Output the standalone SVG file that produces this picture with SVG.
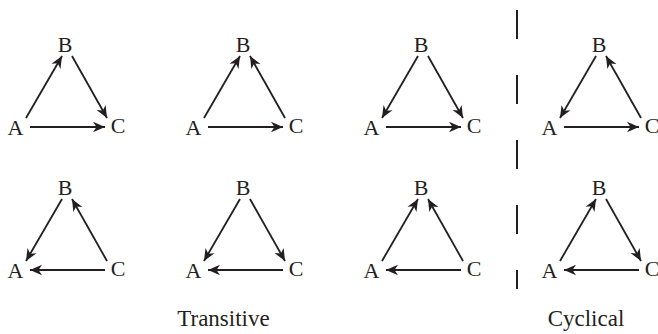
<svg xmlns="http://www.w3.org/2000/svg" width="658" height="334" viewBox="0 0 658 334">
<style>
text{font-family:"Liberation Serif","DejaVu Serif",serif;fill:#231f20}
.n{font-size:22px;text-anchor:middle}
.lbl{font-size:23px;text-anchor:middle}
.e{stroke:#231f20;stroke-width:1.8;fill:none;marker-end:url(#ah)}
.sep{stroke:#231f20;stroke-width:2;stroke-dasharray:29 36}
</style>
<defs>
<marker id="ah" markerUnits="userSpaceOnUse" viewBox="-12 -6 13 12" refX="0" refY="0" markerWidth="13" markerHeight="12" orient="auto">
<path d="M0,0 L-12,-5.2 L-8.5,0 L-12,5.2 z" fill="#231f20"/>
</marker>
</defs>
<rect width="658" height="334" fill="#fff"/>
<g id="connectors">
<g transform="translate(0,0)"><line class="e" x1="26" y1="118" x2="62" y2="56"/><line class="e" x1="72" y1="56" x2="107" y2="118"/><line class="e" x1="30" y1="127" x2="105" y2="127"/></g>
<g transform="translate(178,0)"><line class="e" x1="26" y1="118" x2="62" y2="56"/><line class="e" x1="107" y1="118" x2="72" y2="56"/><line class="e" x1="30" y1="127" x2="105" y2="127"/></g>
<g transform="translate(356,0)"><line class="e" x1="62" y1="56" x2="26" y2="118"/><line class="e" x1="72" y1="56" x2="107" y2="118"/><line class="e" x1="30" y1="127" x2="105" y2="127"/></g>
<g transform="translate(534,0)"><line class="e" x1="62" y1="56" x2="26" y2="118"/><line class="e" x1="107" y1="118" x2="72" y2="56"/><line class="e" x1="30" y1="127" x2="105" y2="127"/></g>
<g transform="translate(0,143)"><line class="e" x1="62" y1="56" x2="26" y2="118"/><line class="e" x1="107" y1="118" x2="72" y2="56"/><line class="e" x1="105" y1="127" x2="30" y2="127"/></g>
<g transform="translate(178,143)"><line class="e" x1="62" y1="56" x2="26" y2="118"/><line class="e" x1="72" y1="56" x2="107" y2="118"/><line class="e" x1="105" y1="127" x2="30" y2="127"/></g>
<g transform="translate(356,143)"><line class="e" x1="26" y1="118" x2="62" y2="56"/><line class="e" x1="107" y1="118" x2="72" y2="56"/><line class="e" x1="105" y1="127" x2="30" y2="127"/></g>
<g transform="translate(534,143)"><line class="e" x1="26" y1="118" x2="62" y2="56"/><line class="e" x1="72" y1="56" x2="107" y2="118"/><line class="e" x1="105" y1="127" x2="30" y2="127"/></g>
</g>
<g id="p1" transform="translate(0,0)"><g id="p1A"><text class="n" x="15.5" y="135">A</text></g><g id="p1B"><text class="n" x="65" y="52">B</text></g><g id="p1C"><text class="n" x="118" y="133">C</text></g></g>
<g id="p2" transform="translate(178,0)"><g id="p2A"><text class="n" x="15.5" y="135">A</text></g><g id="p2B"><text class="n" x="65" y="52">B</text></g><g id="p2C"><text class="n" x="118" y="133">C</text></g></g>
<g id="p3" transform="translate(356,0)"><g id="p3A"><text class="n" x="15.5" y="135">A</text></g><g id="p3B"><text class="n" x="65" y="52">B</text></g><g id="p3C"><text class="n" x="118" y="133">C</text></g></g>
<g id="p4" transform="translate(534,0)"><g id="p4A"><text class="n" x="15.5" y="135">A</text></g><g id="p4B"><text class="n" x="65" y="52">B</text></g><g id="p4C"><text class="n" x="118" y="133">C</text></g></g>
<g id="p5" transform="translate(0,143)"><g id="p5A"><text class="n" x="15.5" y="135">A</text></g><g id="p5B"><text class="n" x="65" y="52">B</text></g><g id="p5C"><text class="n" x="118" y="133">C</text></g></g>
<g id="p6" transform="translate(178,143)"><g id="p6A"><text class="n" x="15.5" y="135">A</text></g><g id="p6B"><text class="n" x="65" y="52">B</text></g><g id="p6C"><text class="n" x="118" y="133">C</text></g></g>
<g id="p7" transform="translate(356,143)"><g id="p7A"><text class="n" x="15.5" y="135">A</text></g><g id="p7B"><text class="n" x="65" y="52">B</text></g><g id="p7C"><text class="n" x="118" y="133">C</text></g></g>
<g id="p8" transform="translate(534,143)"><g id="p8A"><text class="n" x="15.5" y="135">A</text></g><g id="p8B"><text class="n" x="65" y="52">B</text></g><g id="p8C"><text class="n" x="118" y="133">C</text></g></g>
<line id="separator" class="sep" x1="517" y1="10" x2="517" y2="289"/>
<g id="labels">
<text class="lbl" x="223.5" y="326">Transitive</text>
<text class="lbl" x="586" y="326">Cyclical</text>
</g>
</svg>
